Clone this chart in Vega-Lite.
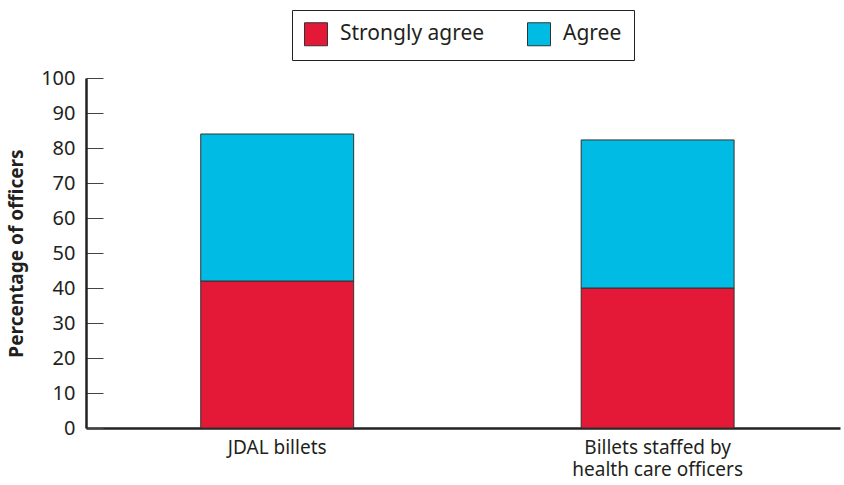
{
  "$schema": "https://vega.github.io/schema/vega-lite/v6.json",
  "autosize": "none",
  "padding": {"left": 86, "top": 78, "right": 4, "bottom": 57},
  "width": 754,
  "height": 350,
  "data": {"values": [
    {"billet": "JDAL billets", "response": "Strongly agree", "pct": 42},
    {"billet": "JDAL billets", "response": "Agree", "pct": 42},
    {"billet": "Billets staffed by health care officers", "response": "Strongly agree", "pct": 40},
    {"billet": "Billets staffed by health care officers", "response": "Agree", "pct": 42.3}
  ]},
  "mark": {"type": "bar", "stroke": "#333333", "strokeWidth": 1},
  "encoding": {
    "x": {
      "field": "billet", "type": "nominal", "sort": null,
      "scale": {"paddingInner": 0.598, "paddingOuter": 0.29, "align": 0.52},
      "axis": {
        "title": null, "labelAngle": 0, "ticks": false,
        "domainColor": "#222222", "domainWidth": 2.5,
        "labelFont": "Noto Sans", "labelFontSize": 19, "labelColor": "#231f20",
        "labelPadding": 10, "labelLineHeight": 22, "labelBaseline": "top",
        "labelExpr": "datum.value == 'Billets staffed by health care officers' ? ['Billets staffed by', 'health care officers'] : datum.label"
      }
    },
    "y": {
      "field": "pct", "type": "quantitative", "stack": "zero",
      "scale": {"domain": [0, 100], "nice": false},
      "axis": {
        "title": "Percentage of officers", "values": [0,10,20,30,40,50,60,70,80,90,100],
        "grid": false, "domainColor": "#222222", "domainWidth": 2.5,
        "tickSize": -17, "tickColor": "#444444", "tickWidth": 1,
        "labelPadding": 28, "labelFont": "Noto Sans", "labelFontSize": 20, "labelColor": "#231f20",
        "titleFont": "Noto Sans", "titleFontSize": 19, "titleFontWeight": "bold", "titleColor": "#231f20",
        "titlePadding": 14
      }
    },
    "color": {
      "field": "response", "type": "nominal",
      "scale": {"domain": ["Strongly agree", "Agree"], "range": ["#e31937", "#00bbe4"]},
      "legend": {
        "title": null, "orient": "none", "direction": "horizontal",
        "legendX": 206, "legendY": -68,
        "padding": 12, "strokeColor": "#222222", "fillColor": "white",
        "symbolType": "square", "symbolSize": 529, "symbolStrokeColor": "#333333", "symbolStrokeWidth": 1,
        "symbolOpacity": 1,
        "labelFont": "Noto Sans", "labelFontSize": 21, "labelColor": "#231f20", "labelOffset": 12,
        "columnPadding": 40, "labelLimit": 300
      }
    },
    "order": {"field": "response", "sort": "descending"}
  },
  "config": {"view": {"stroke": null}}
}
